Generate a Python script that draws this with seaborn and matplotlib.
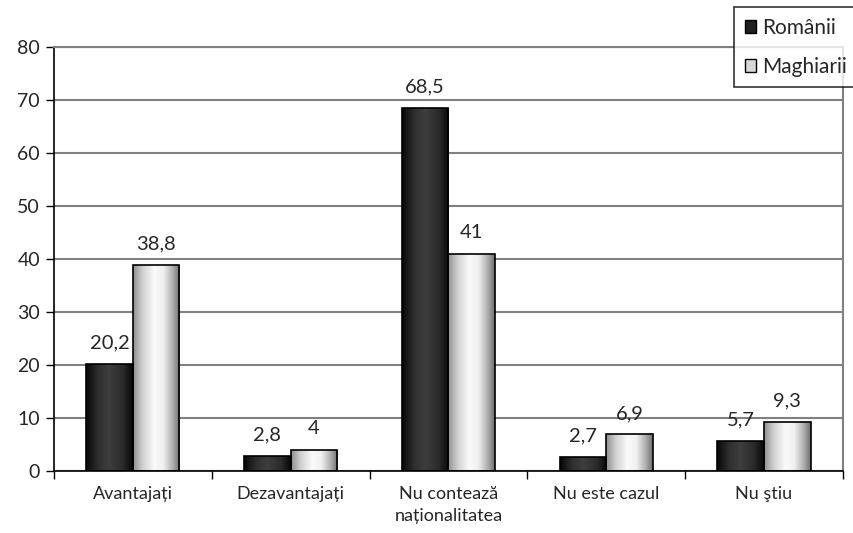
import numpy as np
import pandas as pd
import seaborn as sns
import matplotlib.pyplot as plt
from matplotlib.colors import LinearSegmentedColormap
from matplotlib.patches import Patch

categories = ["Avantajați", "Dezavantajați", "Nu contează\nnaționalitatea", "Nu este cazul", "Nu ştiu"]
romanii = [20.2, 2.8, 68.5, 2.7, 5.7]
maghiarii = [38.8, 4, 41, 6.9, 9.3]
series = ["Românii", "Maghiarii"]

df = pd.DataFrame({
    "cat": categories * 2,
    "val": romanii + maghiarii,
    "grup": [series[0]] * 5 + [series[1]] * 5,
})

sns.set_style("white")
plt.rcParams["font.family"] = ["Lato", "DejaVu Sans"]

fig = plt.figure(figsize=(8.54, 5.33), dpi=100)
ax = fig.add_axes([0.0632, 0.1163, 0.9238, 0.7955])

sns.barplot(data=df, x="cat", y="val", hue="grup", palette=["#303030", "#e8e8e8"],
            width=0.59, gap=0, edgecolor="black", linewidth=1.2, legend=False, ax=ax)

# gradient fills like the original
dark = LinearSegmentedColormap.from_list("d", [(0, "#080808"), (0.25, "#2e2e2e"), (0.5, "#3e3e3e"),
                                                (0.8, "#2a2a2a"), (1, "#080808")])
light = LinearSegmentedColormap.from_list("l", [(0, "#909090"), (0.2, "#d0d0d0"), (0.45, "#fafafa"),
                                                 (0.65, "#f0f0f0"), (0.85, "#b0b0b0"), (1, "#707070")])
grad = np.linspace(0, 1, 64).reshape(1, -1)
for p in list(ax.patches):
    x0, y0 = p.get_x(), p.get_y()
    w, h = p.get_width(), p.get_height()
    cmap = dark if p.get_facecolor()[0] < 0.5 else light
    im = ax.imshow(grad, cmap=cmap, aspect="auto", extent=[x0, x0 + w, y0, y0 + h],
                   zorder=p.get_zorder() + 0.1, interpolation="bilinear")
    im.set_clip_path(p)
    p.set_zorder(p.get_zorder() + 0.2)
    p.set_facecolor("none")

ax.set_xlim(-0.5, 4.5)
ax.set_ylim(0, 80)
ax.set_yticks(range(0, 81, 10))
ax.yaxis.grid(True, color="#808080", linewidth=1.5)
ax.set_axisbelow(True)
ax.set_xlabel("")
ax.set_ylabel("")

for c in ax.containers:
    labels = [("%g" % v.get_height()).replace(".", ",") for v in c]
    ax.bar_label(c, labels=labels, padding=9, fontsize=14.5)

ax.set_xticks(np.arange(-0.5, 5, 1), minor=False)
ax.set_xticklabels([])
ax.set_xticks(range(5), minor=True)
ax.set_xticklabels(categories, minor=True, fontsize=13, linespacing=1.45)
ax.tick_params(axis="x", which="major", length=6, width=1, color="black", direction="out", bottom=True)
ax.tick_params(axis="x", which="minor", length=0, pad=11)
ax.tick_params(axis="y", length=6, width=1, color="black", direction="out", left=True, labelsize=14, pad=4)

for s in ["left", "bottom"]:
    ax.spines[s].set_color("black")
    ax.spines[s].set_linewidth(1.2)
for s in ["right", "top"]:
    ax.spines[s].set_color("#808080")
    ax.spines[s].set_linewidth(1.5)

handles = [Patch(facecolor="#202020", edgecolor="black", label=series[0]),
           Patch(facecolor="#d8d8d8", edgecolor="black", label=series[1])]
leg = fig.legend(handles=handles, loc="upper right", bbox_to_anchor=(1.004, 0.986), fontsize=15,
                 frameon=True, fancybox=False, edgecolor="black", handlelength=0.55, handleheight=0.6,
                 handletextpad=0.3, borderpad=0.5, labelspacing=0.9, borderaxespad=0)
leg.get_frame().set_linewidth(1.2)

fig.savefig("out.png", dpi=100)
